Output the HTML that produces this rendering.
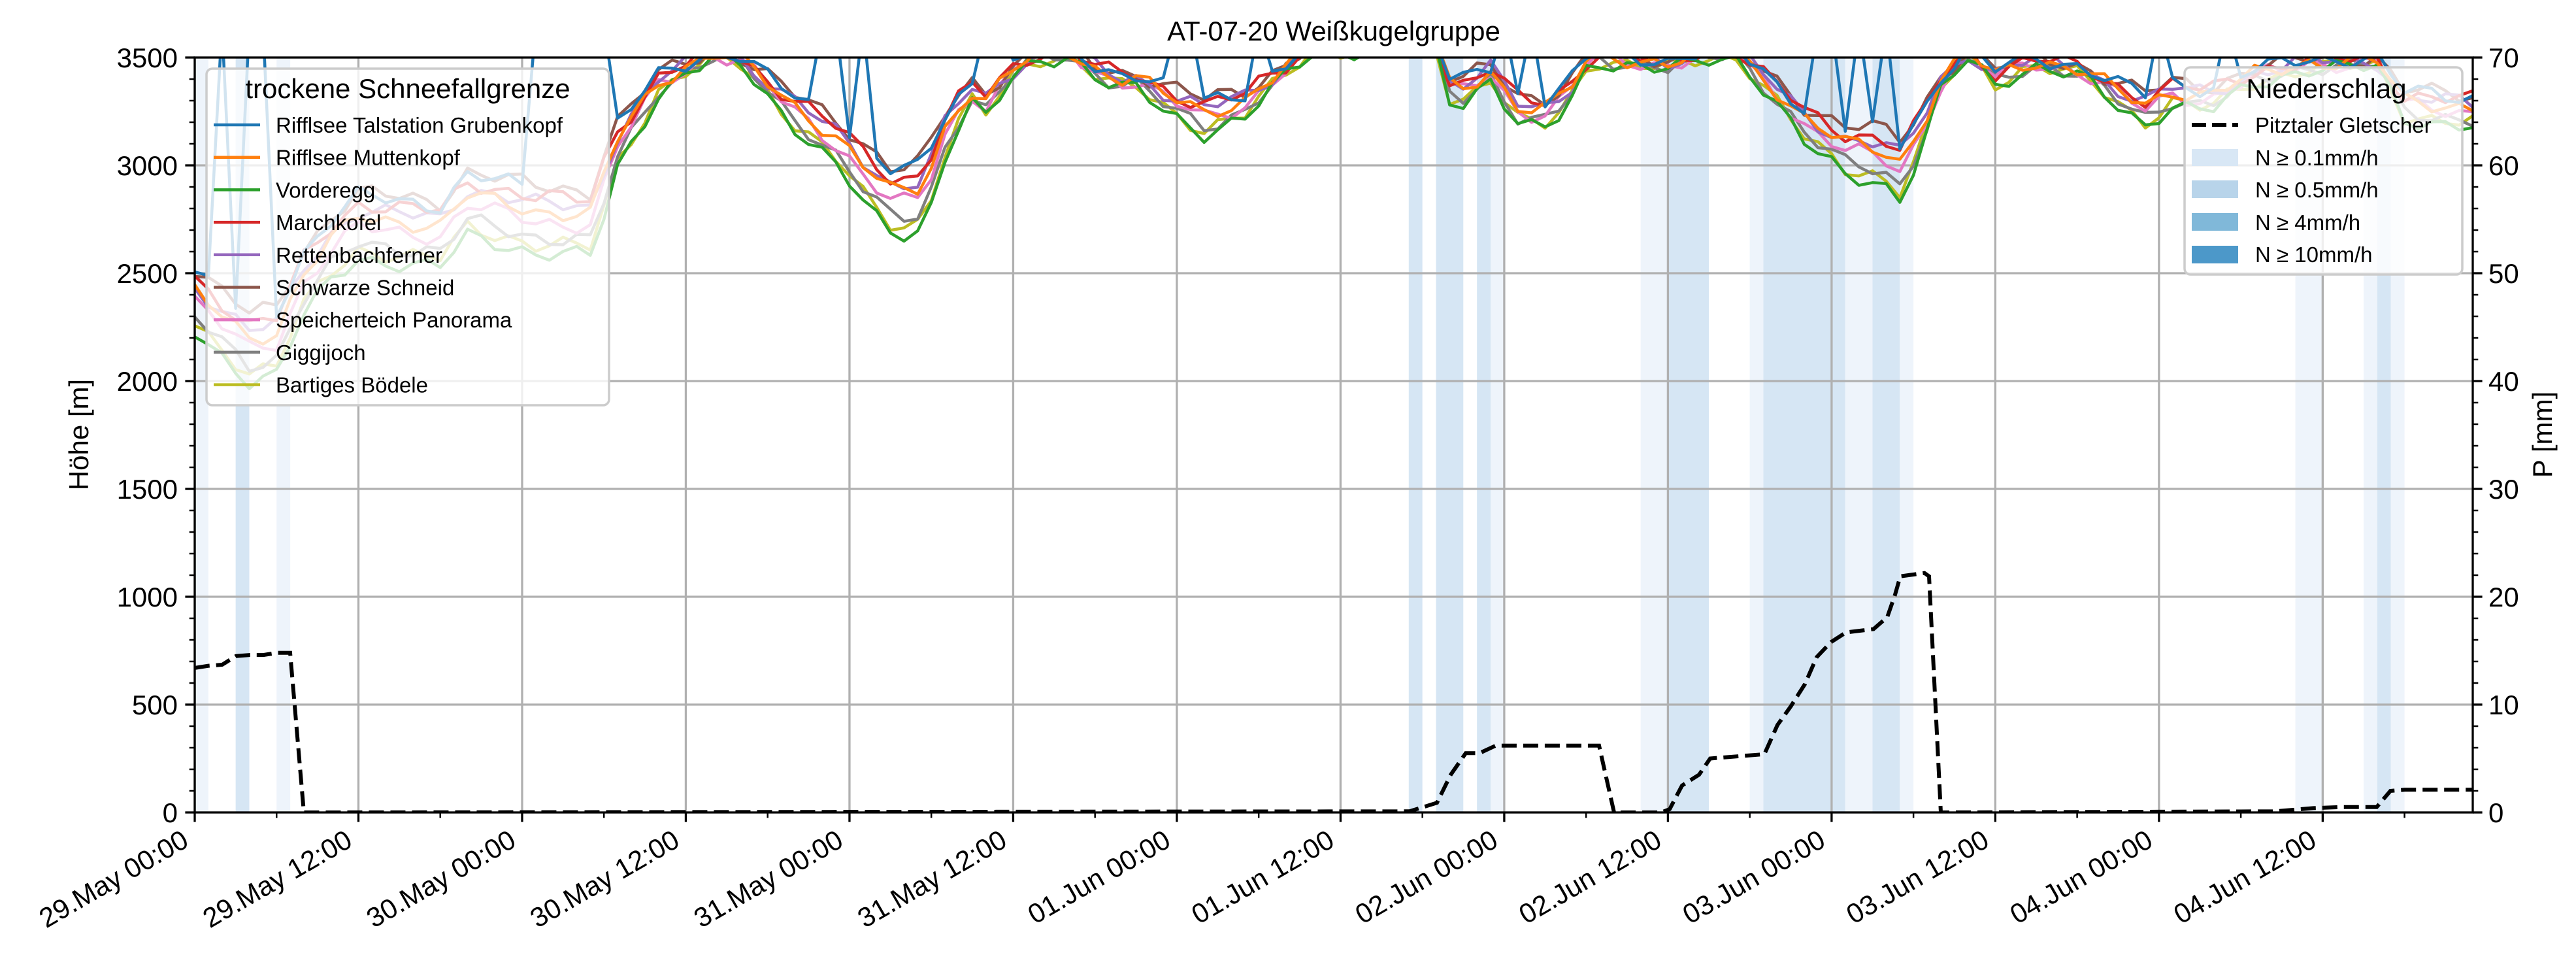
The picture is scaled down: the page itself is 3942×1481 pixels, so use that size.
<!DOCTYPE html>
<html><head><meta charset="utf-8">
<style>
html,body{margin:0;padding:0;background:#fff;}
svg{display:block;font-family:"Liberation Sans","DejaVu Sans",sans-serif;}
</style></head>
<body>
<svg id="c" width="3942" height="1481" viewBox="0 0 3942 1481" xmlns="http://www.w3.org/2000/svg">
<defs><clipPath id="ax"><rect x="298" y="88" width="3486" height="1155"/></clipPath></defs>
<rect width="3942" height="1481" fill="#fff"/>
<g id="bands" clip-path="url(#ax)"></g>
<g id="grid"></g>
<g id="lines" clip-path="url(#ax)"></g>
<g id="precip" clip-path="url(#ax)"></g>
<g id="axes"></g>
<text x="2041" y="62" font-size="42" text-anchor="middle">AT-07-20 Weißkugelgruppe</text>
<text transform="translate(135,665) rotate(-90)" font-size="42" text-anchor="middle">Höhe [m]</text>
<text transform="translate(3905,665) rotate(-90)" font-size="42" text-anchor="middle">P [mm]</text>
<rect x="316" y="105" width="616" height="515" rx="9" fill="rgba(255,255,255,0.8)" stroke="#cccccc" stroke-width="3.5"/>
<text x="624" y="150" font-size="42" text-anchor="middle">trockene Schneefallgrenze</text>
<g id="leg1" font-size="33"></g>
<rect x="3343" y="103" width="425" height="317" rx="9" fill="rgba(255,255,255,0.8)" stroke="#cccccc" stroke-width="3.5"/>
<text x="3560" y="150" font-size="42" text-anchor="middle">Niederschlag</text>
<line x1="3354" y1="191" x2="3425" y2="191" stroke="#000" stroke-width="6" stroke-dasharray="22,9"/>
<text x="3451" y="203" font-size="33">Pitztaler Gletscher</text>
<rect x="3354" y="228" width="71" height="26" fill="#d8e7f5"/>
<text x="3451" y="253" font-size="33">N ≥ 0.1mm/h</text>
<rect x="3354" y="276" width="71" height="27" fill="#b8d4ea"/>
<text x="3451" y="302" font-size="33">N ≥ 0.5mm/h</text>
<rect x="3354" y="326" width="71" height="27" fill="#80b8d9"/>
<text x="3451" y="352" font-size="33">N ≥ 4mm/h</text>
<rect x="3354" y="376" width="71" height="27" fill="#4c98c9"/>
<text x="3451" y="401" font-size="33">N ≥ 10mm/h</text>
</svg>
<script>
(function(){
var NS="http://www.w3.org/2000/svg";
function el(p,t,a,txt){var e=document.createElementNS(NS,t);for(var k in a)e.setAttribute(k,a[k]);if(txt!=null)e.textContent=txt;p.appendChild(e);return e;}
var L=298,R=3784,T=88,B=1243,PH=20.874;
function X(h){return L+h*PH;}
function Y(v){return B-v*(1155/3500);}
function YP(p){return B-p*16.5;}
var g=document.getElementById('grid'),ax=document.getElementById('axes'),bd=document.getElementById('bands');
var bands=[[0,1,1],[3,1,2],[6,1,1],
[89,1,2],[91,2,2],[94,1,2],[95,1,1],
[106,2,1],[108,3,2],
[114,1,1],[115,5,2],[120,1,2],[121,2,1],[123,2,2],[125,1,1],
[154,2,1],[159,1,1],[160,1,2],[161,1,1]];
bands.forEach(function(b){el(bd,'rect',{x:X(b[0]),y:T,width:b[1]*PH,height:B-T,fill:b[2]==1?'#eef4fb':'#d6e6f4'});});
for(var i=0;i<=13;i++){var x=X(i*12);el(g,'line',{x1:x,y1:T,x2:x,y2:B,stroke:'#b0b0b0','stroke-width':3.3});}
for(var v=500;v<3500;v+=500){el(g,'line',{x1:L,y1:Y(v),x2:R,y2:Y(v),stroke:'#b0b0b0','stroke-width':3.3});}
var K=[[0,2410],[2,2300],[4,2200],[6,2230],[8,2500],[10,2650],[12,2760],[15,2740],[18,2720],[20,2860],[23,2820],[25,2790],[27,2780],[29,2770],[30,2950],[31,3120],[33,3300],[34,3390],[36,3460],[38,3520],[40,3490],[42,3380],[43.6,3290],[45,3230],[47.3,3120],[49,3000],[51,2880],[52.8,2870],[54,3000],[55.3,3220],[57,3350],[58,3300],[60.3,3460],[62,3520],[64,3540],[66,3450],[67.6,3400],[69,3400],[71.3,3320],[74,3250],[77,3300],[79,3400],[80,3450],[82,3560],[91,3560],[91.8,3370],[93,3360],[95,3440],[96.9,3280],[98.8,3250],[100.6,3330],[102.4,3520],[108,3470],[111,3520],[113,3530],[116.3,3330],[118.2,3200],[121,3100],[123.6,3080],[125,3020],[126.5,3170],[128,3390],[130,3520],[132,3420],[134.7,3490],[138.4,3440],[141.3,3330],[143,3280],[145,3350],[147.6,3320],[151,3420],[155,3480],[160,3480],[162,3300],[167,3270]];
function base(h){for(var i=1;i<K.length;i++){if(h<=K[i][0]){var a=K[i-1],b=K[i];return a[1]+(b[1]-a[1])*(h-a[0])/(b[0]-a[0]);}}return K[K.length-1][1];}
var cols=['#1f77b4','#ff7f0e','#2ca02c','#d62728','#9467bd','#8c564b','#e377c2','#7f7f7f','#bcbd22'];
var names=['Rifflsee Talstation Grubenkopf','Rifflsee Muttenkopf','Vorderegg','Marchkofel','Rettenbachferner','Schwarze Schneid','Speicherteich Panorama','Giggijoch','Bartiges Bödele'];
var d=[60,0,-120,40,20,70,-30,-75,-95];
var spikes={2:1,4:1,5:1,25:1,26:1,27:1,28:1,29:1,30:1,46:1,47:1,49:1,58:1,59:1,62:1,63:1,72:1,73:1,78:1,96:1,98:1,119:1,120:1,122:1,124:1,144:1,149:1};
var lg=document.getElementById('lines');
for(var k=8;k>=0;k--){
 var pts=[];
 for(var h=0;h<=167;h++){
  var b=base(h);var s=Math.min(1.6,Math.max(0.25,(3560-b)/380));
  var v=b+d[k]*s+28*Math.sin(h*1.7+k*2.3)+18*Math.sin(h*0.63+k*1.1);
  if(k==0&&spikes[h])v=3650;
  pts.push(X(h).toFixed(1)+','+Y(v).toFixed(1));
 }
 el(lg,'polyline',{points:pts.join(' '),fill:'none',stroke:cols[k],'stroke-width':4.5,'stroke-linejoin':'round'});
}
var P=[[298,13.4],[319,13.6],[340,13.7],[361,14.5],[382,14.6],[403,14.6],[424,14.8],[444,14.8],[465,0],[2157,0.1],[2178,0.5],[2199,0.9],[2220,3.5],[2243,5.5],[2264,5.5],[2289,6.2],[2447,6.2],[2470,0],[2542,0],[2555,0.3],[2574,2.5],[2600,3.5],[2617,5.0],[2700,5.4],[2720,8.1],[2740,9.8],[2762,11.9],[2780,14.4],[2802,15.8],[2825,16.7],[2867,17.0],[2888,18.1],[2900,20.2],[2908,21.9],[2945,22.2],[2952,21.9],[2970,0],[3482,0.1],[3540,0.4],[3583,0.5],[3637,0.5],[3658,2.0],[3680,2.1],[3790,2.1]];
el(document.getElementById('precip'),'polyline',{points:P.map(function(p){return p[0]+','+YP(p[1]).toFixed(1);}).join(' '),fill:'none',stroke:'#000','stroke-width':6,'stroke-dasharray':'23,10'});
el(ax,'rect',{x:L,y:T,width:R-L,height:B-T,fill:'none',stroke:'#000','stroke-width':3.3});
for(var v=0;v<=3500;v+=100){var maj=v%500==0;el(ax,'line',{x1:L-(maj?14.6:8.3),y1:Y(v),x2:L,y2:Y(v),stroke:'#000','stroke-width':maj?3.3:2.5});
 if(maj)el(ax,'text',{x:L-26,y:Y(v)+15,'font-size':42,'text-anchor':'end'},String(v));}
for(var p=0;p<=70;p+=2){var maj=p%10==0;el(ax,'line',{x1:R,y1:YP(p),x2:R+(maj?14.6:8.3),y2:YP(p),stroke:'#000','stroke-width':maj?3.3:2.5});
 if(maj)el(ax,'text',{x:R+24,y:YP(p)+15,'font-size':42},String(p));}
var labs=['29.May 00:00','29.May 12:00','30.May 00:00','30.May 12:00','31.May 00:00','31.May 12:00','01.Jun 00:00','01.Jun 12:00','02.Jun 00:00','02.Jun 12:00','03.Jun 00:00','03.Jun 12:00','04.Jun 00:00','04.Jun 12:00'];
for(var h=0;h<=167;h+=6){var maj=h%12==0;var x=X(h);el(ax,'line',{x1:x,y1:B,x2:x,y2:B+(maj?14.6:8.3),stroke:'#000','stroke-width':maj?3.3:2.5});
 if(maj){el(ax,'text',{transform:'translate('+(x-22)+','+(B+24)+') rotate(-30)','font-size':42,'text-anchor':'end','dominant-baseline':'hanging'},labs[h/12]);}}
var l1=document.getElementById('leg1');
for(var k=0;k<9;k++){var y=191+k*49.7;el(l1,'line',{x1:327,y1:y,x2:398,y2:y,stroke:cols[k],'stroke-width':4.5});el(l1,'text',{x:422,y:y+12},names[k]);}
})();
</script>
</body></html>
